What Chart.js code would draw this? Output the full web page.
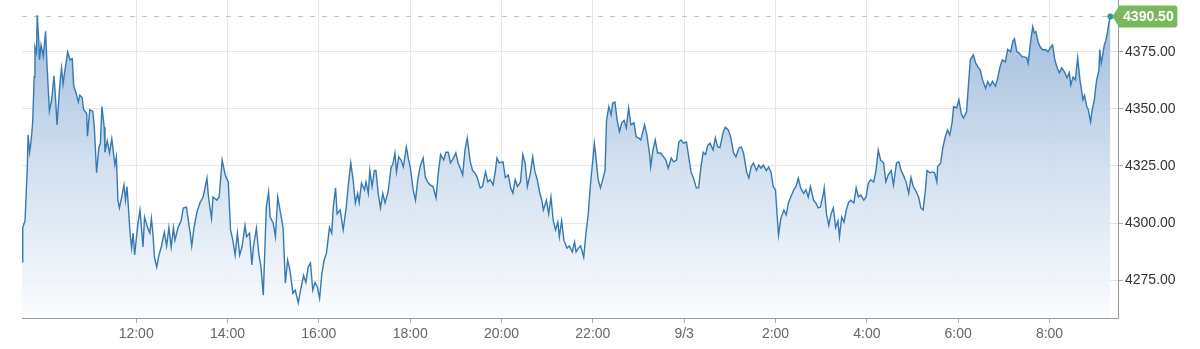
<!DOCTYPE html>
<html>
<head>
<meta charset="utf-8">
<script src="https://cdn.jsdelivr.net/npm/chart.js@4"></script>
<style>
  html, body { margin: 0; padding: 0; background: #fff; }
  #wrap { width: 1200px; height: 349px; position: relative; }
</style>
</head>
<body>
<div id="wrap"><canvas id="price-chart"></canvas></div>
<script>
// minutes after the 9:30 session open, and the traded price at that moment
const minutes = [
  0,1,4,7,8,10,12,14,16,17,19,20,22,23,25,28,31,33,36,39,42,44,46,50,52,54,56,60,63,66,
  68,71,74,76,79,81,85,86,89,93,95,98,101,103,105,108,109,112,115,118,122,124,126,128,131,134,136,138,142,144,
  146,148,152,155,157,159,161,165,168,170,172,174,177,180,183,187,190,193,196,199,201,205,209,
  212,216,221,223,226,230,234,238,243,245,249,251,256,259,263,267,271,274,277,280,
  283,286,289,293,295,299,302,304,308,311,314,317,321,324,326,330,333,336,339,343,
  346,349,352,356,359,363,366,370,373,376,379,382,385,388,391,394,397,400,404,407,409,412,414,
  418,422,426,429,432,435,438,441,443,446,450,452,455,457,460,463,465,468,471,474,
  477,481,485,487,490,492,495,498,501,505,508,510,514,517,520,523,527,530,533,536,
  540,544,547,550,554,557,560,563,567,570,573,577,579,582,585,589,592,595,598,602,
  605,609,612,615,619,622,624,627,
  632,635,639,642,645,648,651,655,658,661,664,668,671,674,677,680,683,685,689,692,
  695,698,701,704,706,709,712,716,719,723,726,728,731,734,738,741,744,747,750,752,
  754,757,760,763,766,768,771,774,776,779,782,785,788,791,794,797,800,804,807,810,
  813,818,821,825,826,829,832,835,
  839,843,846,849,853,856,860,863,866,869,873,876,879,882,886,889,892,895,898,901,
  904,908,911,914,917,921,924,928,931,935,938,942,945,948,952,955,958,961,965,968,
  971,974,978,981,984,987,990,992,994,997,1001,1004,1007,1010,1014,1017,1020,1023,1027,1030,
  1033,1036,1040,1043,1046,
  1049,1053,1054,1057,1060,1063,1066,1069,1072,1074,1077,1080,1083,1086,1089,1093,1096,1099,1102,1106,
  1109,1112,1115,1119,1122,1125,1128,1132,1135,1138,1142,1145,1149,1152,1155,1158,1162,1165,1168,1171,
  1175,1178,1181,1184,1187,1189,1193,1196,1199,1202,1203,1207,1210,1213,1216,1219,1222,1224,1228,1231,
  1234,1237,1241,1244,1246,1250,
  1253,1256,1259,1262,1266,1269,1272,1275,1279,1282,1285,1288,1292,1295,1299,1302,1304,1307,1310,1314,
  1317,1320,1322,1325,1328,1330,1332,1335,1338,1341,1345,1348,1351,1354,1357,1360,1363,1366,1370,1373,
  1376,1378,1381,1384,1387,1390,1392,1394,1396,1399,1401,1403,1404,1406,1409,1410,1412,1415,1416,1418,
  1420,1422,1424,1426,1428,1430
];

const prices = [
  4283,4298,4301,4324.6,4338.6,4331,4336,4344,4364,4377,4374.6,4391,4380,4371.5,4378,4373,4384,4368,4349,4354,
  4364.5,4355,4343,4362,4368,4361,4366,4375,4371.5,4372,4360,4357,4353,4356,4355,4349.6,4348,4338,4349.6,4349,
  4342,4322,4333,4335,4351,4342,4331,4336,4330.7,4337,4325.4,4329,4310,4306.6,4311.4,4316.7,4310,4316,4295.6,4289,
  4295.6,4286,4299,4305.7,4298,4289.5,4302.6,4298,4295.6,4302,4295.6,4285,4280.7,4286,4289.5,4296,4290,4298,4289.5,4298,
  4292.5,4298,4301,
  4306.6,4307,4295.6,4290,4298,4305,4309,4311.4,4319.7,4311.4,4302,4311.4,4310,4311.4,4327.6,4321,4318,4297,4292.5,4286,
  4295.6,4286,4289.5,4299,4294,4295.6,4281.6,4289.5,4297.8,4286.8,4280.7,4268.4,4307,4313.6,4302.6,4300,4294,4311.4,4305.7,4298,
  4273.7,4283.8,4279.4,4269.3,4270.6,4265,4270.6,4277,4274,4280.7,4282.5,4270.6,4274,4272,4267,4278,4283.8,4286.8,4298,4295.6,
  4307,4315.4,4304,
  4305.7,4297,4307,4317.5,4326.3,4319,4308.8,4313,4309,4317.5,4314.5,4318,4313,4323,4316,4323,4323,4313,4306.6,4313,
  4308.8,4313.6,4324.6,4325.4,4330.7,4322.4,4329,4327.6,4324.6,4333.3,4327.6,4324.6,4314.5,4310,4319,4324.6,4328.5,4320,4318,4316.7,
  4316,4311,4322,4330,4327.6,4331,4331,4326.3,4328.5,4330.7,4326.3,4323,4321,4332,4337.3,4326.8,4323,4322,4320,4315.4,
  4316,4322.4,4318,4319,4316.7,4323,4328.5,4326.3,
  4326.8,4320,4321,4315.4,4313,4319,4316,4318,4330,4326.3,4316,4322,4329,4322.4,4319,4313.6,4310,4305.7,4310,4304,
  4311.4,4301,4297,4300.4,4294,4301,4292.5,4289,4290,4287.3,4291.7,4287.3,4289,4290,4285,4295.6,4304,4317.5,4327.6,4335,
  4329,4319,4315.4,4319,4323,4345,4351,4347.4,4352.6,4353,4345,4340,4343.9,4345,4341.7,4350.4,4343,4343.9,4337.7,4337.3,
  4336.4,4343,4338.6,4329,4324.6,4332,4336.4,4330.7,
  4330.7,4329,4327.6,4324,4328.5,4326.8,4327.6,4335.5,4336.4,4335,4335.5,4329,4322.4,4320,4315.4,4315.4,4324.6,4331,4330,4334,
  4335,4332,4337.3,4333.3,4333,4339.5,4342,4340.8,4337.7,4330.7,4329,4333,4333.3,4330.7,4322.4,4319.7,4324.6,4326.3,4323,4325.4,
  4324,4325.4,4323,4324.6,4322.4,4316,4314.5,4304,4294.7,4302,4305.7,4303.5,4308.8,4311.4,4314.5,4316,4319.7,4315.4,4313,4314.5,
  4311.4,4316,4310,4308.8,4306.6,
  4307,4313,4315.4,4304,4299,4304,4306.6,4298,4301,4294,4302.6,4300.4,4305.7,4309,4310,4308.8,4315.4,4311.4,4312.3,4310,
  4311.4,4317.5,4319,4318,4323,4332,4327.6,4326.3,4318,4321,4323,4316.7,4326.3,4326.8,4323,4321,4317.5,4313,4320,4316,
  4313.6,4311.4,4306.6,4305.7,4314.5,4323,4322,4322.4,4322,4318,4324.6,4326.3,4333.3,4337.7,4340.8,4338.6,4343.9,4351,4350.4,4354,
  4348,4346,4348.7,4362.7,4371.5,4373.7,
  4370,4368.4,4367,4362.7,4359,4362,4360,4362,4360,4363.6,4368.4,4371.5,4370.6,4376,4375,4379.8,4380.7,4375,4374.6,4372.8,
  4372.8,4372.4,4370,4379,4386,4383.3,4383.8,4379.4,4377,4375.9,4375.9,4375,4376.8,4378,4371.5,4368,4365.8,4368,4366,4363.6,
  4365.8,4360.5,4364,4362.7,4372.4,4362.7,4358.3,4354,4356,4351,4349.6,4346,4344.3,4349.6,4354,4357.5,4362.7,4367,4376,4370,
  4373.7,4378,4380,4383.3,4387.7,4390.5
];

const tickMinutes = [150, 270, 390, 510, 630, 750, 870, 990, 1110, 1230, 1350];
const tickLabels = ['12:00', '14:00', '16:00', '18:00', '20:00', '22:00', '9/3', '2:00', '4:00', '6:00', '8:00'];
const yTicks = [4275, 4300, 4325, 4350, 4375];

const lastPrice = prices[prices.length - 1];
const lastMinute = minutes[minutes.length - 1];

Chart.defaults.font.family = 'Arial, "Liberation Sans", sans-serif';
Chart.defaults.font.size = 14;

// green price tag on the right, pointing at the last point
const lastPriceTag = {
  id: 'lastPriceTag',
  afterDraw(chart) {
    const meta = chart.getDatasetMeta(0);
    const pt = meta.data[meta.data.length - 1];
    if (!pt) return;
    const c = chart.ctx;
    const tip = pt.x + 2;
    const y = pt.y;
    const left = tip + 7, right = left + 58, top = y - 11, bottom = y + 11;
    c.save();
    c.beginPath();
    c.moveTo(tip, y);
    c.lineTo(left, top);
    c.lineTo(right - 3, top);
    c.quadraticCurveTo(right, top, right, top + 3);
    c.lineTo(right, bottom - 3);
    c.quadraticCurveTo(right, bottom, right - 3, bottom);
    c.lineTo(left, bottom);
    c.closePath();
    c.fillStyle = '#7ab85c';
    c.fill();
    c.fillStyle = '#fff';
    c.font = 'bold 14px Arial, "Liberation Sans", sans-serif';
    c.textAlign = 'center';
    c.textBaseline = 'middle';
    c.fillText(lastPrice.toFixed(2), (left + right) / 2, y + 1);
    c.restore();
  }
};

function areaGradient(ctx) {
  const { chart } = ctx;
  const area = chart.chartArea;
  if (!area) return 'rgba(160,190,222,0.5)';
  const g = chart.ctx.createLinearGradient(0, area.top, 0, area.bottom);
  g.addColorStop(0, 'rgba(146,179,216,0.92)');
  g.addColorStop(0.5, 'rgba(203,219,237,0.9)');
  g.addColorStop(1, 'rgba(250,252,254,0.9)');
  return g;
}

new Chart(document.getElementById('price-chart'), {
  type: 'line',
  data: {
    datasets: [
      {
        data: minutes.map((m, i) => ({ x: m, y: prices[i] })),
        borderColor: '#3579b2',
        borderWidth: 1.4,
        backgroundColor: areaGradient,
        fill: 'start',
        tension: 0,
        pointRadius: minutes.map((m, i) => i === minutes.length - 1 ? 3 : 0),
        pointBackgroundColor: '#2b9a8c',
        pointBorderWidth: 0,
        order: 1,
      },
      {
        data: [{ x: 0, y: lastPrice }, { x: lastMinute, y: lastPrice }],
        borderColor: '#b4c9a4',
        borderWidth: 1,
        borderDash: [5, 7],
        pointRadius: 0,
        fill: false,
        order: 2,
      },
    ],
  },
  options: {
    responsive: true,
    maintainAspectRatio: false,
    animation: false,
    events: [],
    layout: { autoPadding: false, padding: { left: 22, top: 0, right: 0, bottom: 0 } },
    plugins: {
      legend: { display: false },
      tooltip: { enabled: false },
    },
    scales: {
      x: {
        type: 'linear',
        min: 0,
        max: 1440,
        afterBuildTicks: s => { s.ticks = tickMinutes.map(v => ({ value: v })); },
        afterFit: s => { s.height = 31; s.paddingLeft = 0; s.paddingRight = 0; },
        ticks: {
          color: '#666',
          padding: 3,
          maxRotation: 0,
          autoSkip: false,
          callback: v => tickLabels[tickMinutes.indexOf(v)],
        },
        grid: { color: '#e6e6e6', tickColor: '#aaa', tickLength: 5 },
        border: { color: '#999' },
      },
      y: {
        type: 'linear',
        position: 'right',
        min: 4258.4,
        max: 4397.7,
        afterBuildTicks: s => { s.ticks = yTicks.map(v => ({ value: v })); },
        afterFit: s => { s.width = 82; s.paddingTop = 0; s.paddingBottom = 0; },
        ticks: {
          color: '#333',
          padding: 2,
          callback: v => v.toFixed(2),
        },
        grid: { color: '#e6e6e6', tickColor: '#aaa', tickLength: 5 },
        border: { color: '#999' },
      },
    },
  },
  plugins: [lastPriceTag],
});
</script>
</body>
</html>
